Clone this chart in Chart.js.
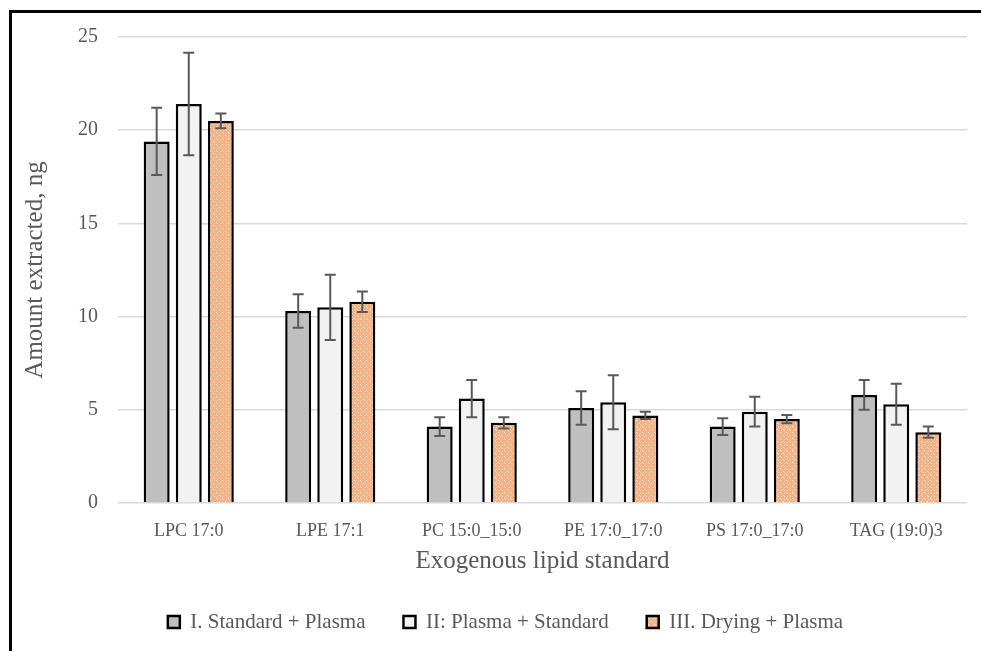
<!DOCTYPE html>
<html>
<head>
<meta charset="utf-8">
<script src="https://cdn.jsdelivr.net/npm/chart.js@4.4.1/dist/chart.umd.min.js"></script>
<style>
  html, body { margin: 0; padding: 0; background: #ffffff; overflow: hidden; }
  #wrap { position: relative; width: 981px; height: 651px; }
  #frame {
    position: absolute; left: 9px; top: 10px; width: 1200px; height: 900px;
    border-left: 3px solid #000; border-top: 3px solid #000; pointer-events: none;
  }
  canvas { position: absolute; left: 0; top: 0; }
</style>
</head>
<body>
<div id="wrap">
  <canvas id="chart" width="981" height="651"></canvas>
  <div id="frame"></div>
</div>
<script>
// Lipid standards and the three extraction orders
const categories = ['LPC 17:0', 'LPE 17:1', 'PC 15:0_15:0', 'PE 17:0_17:0', 'PS 17:0_17:0', 'TAG (19:0)3'];
const seriesNames = ['I. Standard + Plasma', 'II: Plasma + Standard', 'III. Drying + Plasma'];

const standardPlasma    = [19.4, 10.3, 4.1, 5.1, 4.1, 5.8];
const standardPlasmaErr = [1.8, 0.9, 0.5, 0.9, 0.45, 0.8];

const plasmaStandard    = [21.4, 10.5, 5.6, 5.4, 4.9, 5.3];
const plasmaStandardErr = [2.75, 1.75, 1.0, 1.45, 0.8, 1.1];

const dryingPlasma      = [20.5, 10.8, 4.3, 4.7, 4.5, 3.8];
const dryingPlasmaErr   = [0.4, 0.55, 0.3, 0.2, 0.22, 0.3];

const yTicks = [0, 5, 10, 15, 20, 25];

const FONT = "'Liberation Serif', 'Times New Roman', serif";
const TEXT = '#595959';

// Peach fill with a fine white dotted lattice
function makePattern() {
  const c = document.createElement('canvas');
  c.width = 6; c.height = 6;
  const g = c.getContext('2d');
  g.fillStyle = '#f4b183';
  g.fillRect(0, 0, 6, 6);
  g.fillStyle = 'rgba(255,255,255,0.85)';
  g.fillRect(0, 0, 1, 1);
  g.fillRect(3, 3, 1, 1);
  g.fillStyle = 'rgba(255,255,255,0.45)';
  g.fillRect(1, 1, 1, 1);
  g.fillRect(4, 4, 1, 1);
  g.fillRect(1, 4, 1, 1);
  g.fillRect(4, 1, 1, 1);
  return c.getContext('2d').createPattern(c, 'repeat');
}
const peach = makePattern();

// Symmetric error bars drawn through the value scale
const errorBars = {
  id: 'errorBars',
  afterDatasetsDraw(chart) {
    const { ctx, scales: { y } } = chart;
    ctx.save();
    ctx.strokeStyle = '#595959';
    ctx.lineWidth = 2;
    chart.data.datasets.forEach((ds, i) => {
      const meta = chart.getDatasetMeta(i);
      meta.data.forEach((bar, j) => {
        const v = ds.data[j], e = ds.errors[j];
        const top = y.getPixelForValue(v + e);
        const bot = y.getPixelForValue(v - e);
        const x = bar.x, cap = 5.5;
        ctx.beginPath();
        ctx.moveTo(x, top); ctx.lineTo(x, bot);
        ctx.moveTo(x - cap, top); ctx.lineTo(x + cap, top);
        ctx.moveTo(x - cap, bot); ctx.lineTo(x + cap, bot);
        ctx.stroke();
      });
    });
    ctx.restore();
  }
};

// Legend: wide spacing between entries but a compact box height,
// shifted a little right of the canvas centre
const legendLayout = {
  id: 'legendLayout',
  beforeUpdate(chart) {
    const lg = chart.legend;
    if (lg && !lg._compact) {
      const fit = lg.fit;
      lg.fit = function () { fit.call(this); this.height = 67.5; };
      lg._compact = true;
    }
  },
  afterLayout(chart) {
    const lg = chart.legend;
    if (lg) { lg.left += 22; lg.right += 22; }
  }
};

const common = { borderColor: '#000000', borderWidth: 2.5, categoryPercentage: 0.68, barPercentage: 0.81 };

new Chart(document.getElementById('chart'), {
  type: 'bar',
  data: {
    labels: categories,
    datasets: [
      { label: seriesNames[0], data: standardPlasma, errors: standardPlasmaErr, backgroundColor: '#bfbfbf', ...common },
      { label: seriesNames[1], data: plasmaStandard, errors: plasmaStandardErr, backgroundColor: '#f2f2f2', ...common },
      { label: seriesNames[2], data: dryingPlasma, errors: dryingPlasmaErr, backgroundColor: peach, ...common }
    ]
  },
  options: {
    responsive: false,
    animation: false,
    layout: { padding: { top: 37, right: 14, left: 0, bottom: 10 } },
    plugins: {
      tooltip: { enabled: false },
      legend: {
        position: 'bottom',
        labels: {
          boxWidth: 12, boxHeight: 12, padding: 38,
          color: TEXT,
          font: { family: FONT, size: 21 },
          generateLabels(chart) {
            return chart.data.datasets.map((ds, i) => ({
              text: ds.label, fillStyle: ds.backgroundColor, strokeStyle: '#000',
              lineWidth: 2.5, hidden: false, datasetIndex: i, fontColor: TEXT
            }));
          }
        }
      }
    },
    scales: {
      x: {
        grid: { display: false, drawTicks: false },
        border: { display: false },
        ticks: { color: TEXT, font: { family: FONT, size: 18 }, padding: 17 },
        title: { display: true, text: 'Exogenous lipid standard', color: TEXT,
                 font: { family: FONT, size: 25, lineHeight: 1 }, padding: { top: 0, bottom: 0 } },
        afterFit(s) { s.height = 70.5; }
      },
      y: {
        min: 0, max: 25,
        afterBuildTicks(s) { s.ticks = yTicks.map(v => ({ value: v })); },
        grid: { color: '#d9d9d9', lineWidth: 1.5, drawTicks: false },
        border: { display: false },
        ticks: { color: TEXT, font: { family: FONT, size: 20 }, padding: 20 },
        title: { display: true, text: 'Amount extracted, ng', color: TEXT,
                 font: { family: FONT, size: 25, lineHeight: 1 }, padding: { top: 22.5, bottom: 0 } },
        afterFit(s) { s.width = 118; }
      }
    }
  },
  plugins: [errorBars, legendLayout]
});
</script>
</body>
</html>
